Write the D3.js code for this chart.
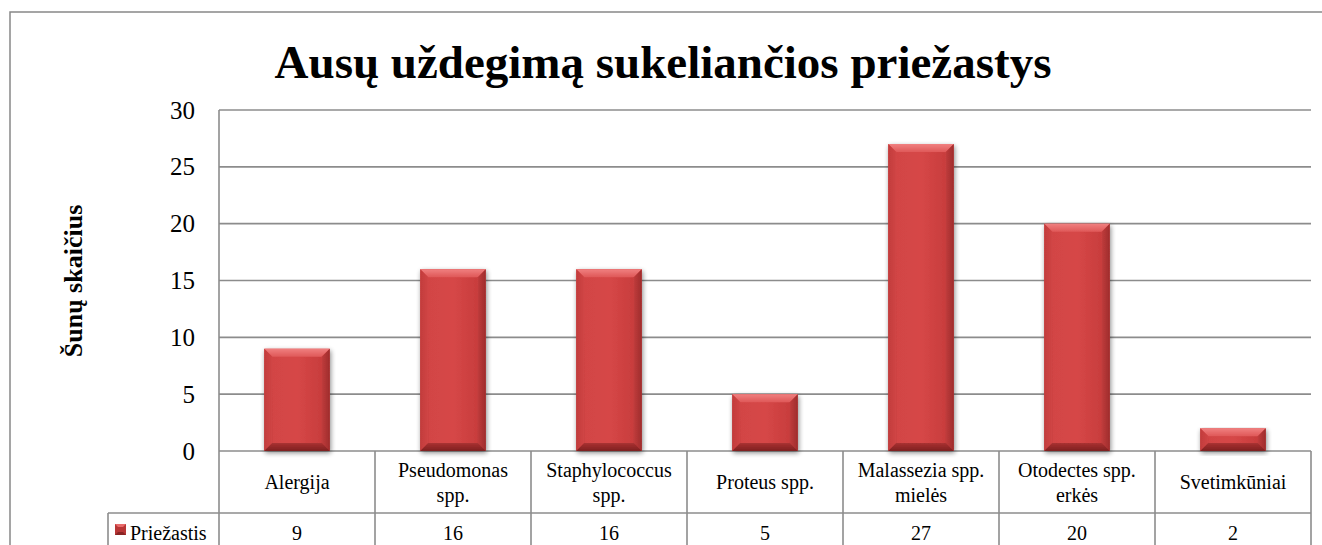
<!DOCTYPE html>
<html>
<head>
<meta charset="utf-8">
<script src="https://d3js.org/d3.v7.min.js"></script>
<style>
  html, body { margin: 0; padding: 0; background: #fff; overflow: hidden; }
  svg { display: block; }
  svg text { font-family: "Liberation Serif", "Times New Roman", serif; }
</style>
</head>
<body>
<div id="chart"></div>
<script>
/* Data */
const categories = [
  ['Alergija'],
  ['Pseudomonas', 'spp.'],
  ['Staphylococcus', 'spp.'],
  ['Proteus spp.'],
  ['Malassezia spp.', 'mielės'],
  ['Otodectes spp.', 'erkės'],
  ['Svetimkūniai']
];
const values = [9, 16, 16, 5, 27, 20, 2];
const yTicks = [0, 5, 10, 15, 20, 25, 30];
const seriesName = 'Priežastis';
const chartTitle = 'Ausų uždegimą sukeliančios priežastys';
const yTitle = 'Šunų skaičius';

/* Layout */
const W = 1322, H = 545;
const plot = { left: 219, right: 1311, top: 110, bottom: 451 };
const tableRow1 = 513;   // bottom of category row
const tableRow2 = 560;   // bottom of value row (cut off)
const legendLeft = 108;
const gridColor = '#8c8c8c';
const serif = '"Liberation Serif", "Times New Roman", serif';

const svg = d3.select('#chart').append('svg')
  .attr('width', W).attr('height', H);

const defs = svg.append('defs');

// bevel gradients for bars
function grad(id, x1, y1, x2, y2, stops) {
  const g = defs.append('linearGradient').attr('id', id)
    .attr('x1', x1).attr('y1', y1).attr('x2', x2).attr('y2', y2);
  stops.forEach(s => g.append('stop').attr('offset', s[0]).attr('stop-color', s[1]));
}
grad('face', 0, 0, 1, 0, [[0, '#d24545'], [0.5, '#d64747'], [1, '#c83d3d']]);
grad('faceV', 0, 0, 0, 1, [[0, '#d84848'], [1, '#b33434']]);
grad('topBevel', 0, 0, 0, 1, [[0, '#f08080'], [1, '#df5858']]);
grad('leftBevel', 0, 0, 1, 0, [[0, '#c23c3c'], [1, '#d04545']]);
grad('rightBevel', 0, 0, 1, 0, [[0, '#c03c3c'], [1, '#9e2c2c']]);
grad('botBevel', 0, 0, 0, 1, [[0, '#a93131'], [1, '#7e2020']]);

const shadow = defs.append('filter').attr('id', 'shadow')
  .attr('x', '-20%').attr('y', '-10%').attr('width', '140%').attr('height', '130%');
shadow.append('feGaussianBlur').attr('in', 'SourceAlpha').attr('stdDeviation', 2.5);
shadow.append('feOffset').attr('dx', 1).attr('dy', 2).attr('result', 'b');
shadow.append('feComponentTransfer').append('feFuncA').attr('type', 'linear').attr('slope', 0.45);
const merge = shadow.append('feMerge');
merge.append('feMergeNode');
merge.append('feMergeNode').attr('in', 'SourceGraphic');

/* Outer chart border (right side runs off the picture) */
svg.append('path')
  .attr('d', `M10,${H + 5} V12 H${W + 5}`)
  .attr('fill', 'none').attr('stroke', '#888').attr('stroke-width', 1.5);

/* Scales */
const x = d3.scaleBand()
  .domain(d3.range(categories.length))
  .range([plot.left, plot.right])
  .padding(0);

const y = d3.scaleLinear()
  .domain([0, 30])
  .range([plot.bottom, plot.top]);

/* Gridlines */
svg.append('g').selectAll('line')
  .data(yTicks)
  .join('line')
  .attr('x1', plot.left).attr('x2', plot.right)
  .attr('y1', d => y(d)).attr('y2', d => y(d))
  .attr('stroke', gridColor).attr('stroke-width', 1.6);

/* Y axis labels */
const yAxis = svg.append('g')
  .attr('transform', `translate(${plot.left - 24},0)`)
  .call(d3.axisLeft(y).tickValues(yTicks).tickSize(0).tickPadding(0));
yAxis.attr('font-family', serif);
yAxis.select('.domain').remove();
yAxis.selectAll('text')
  .attr('font-size', 25)
  .attr('fill', '#000')
  .attr('dy', '0.32em');

/* Axis vertical line through plot + table */
svg.append('line')
  .attr('x1', plot.left).attr('x2', plot.left)
  .attr('y1', plot.top).attr('y2', tableRow2)
  .attr('stroke', gridColor).attr('stroke-width', 1.6);

/* Bars */
const barW = x.bandwidth() * 0.42;
const bev = 8;
const bars = svg.append('g').selectAll('g')
  .data(values)
  .join('g')
  .attr('transform', (d, i) => `translate(${x(i) + (x.bandwidth() - barW) / 2},${y(d)})`)
  .attr('filter', 'url(#shadow)');

bars.append('rect')
  .attr('width', barW)
  .attr('height', d => y(0) - y(d))
  .attr('fill', 'url(#faceV)');
bars.append('rect')
  .attr('x', bev).attr('y', bev)
  .attr('width', barW - 2 * bev)
  .attr('height', d => Math.max(0, y(0) - y(d) - 2 * bev))
  .attr('fill', 'url(#face)');
bars.append('path')
  .attr('d', () => `M0,0 H${barW} L${barW - bev},${bev} H${bev} Z`)
  .attr('fill', 'url(#topBevel)');
bars.append('path')
  .attr('d', d => { const h = y(0) - y(d); return `M0,0 L${bev},${bev} V${h - bev} L0,${h} Z`; })
  .attr('fill', 'url(#leftBevel)');
bars.append('path')
  .attr('d', d => { const h = y(0) - y(d); return `M${barW},0 L${barW - bev},${bev} V${h - bev} L${barW},${h} Z`; })
  .attr('fill', 'url(#rightBevel)');
bars.append('path')
  .attr('d', d => { const h = y(0) - y(d); return `M0,${h} L${bev},${h - bev} H${barW - bev} L${barW},${h} Z`; })
  .attr('fill', 'url(#botBevel)');

/* Data table */
const table = svg.append('g').attr('font-family', serif);
// horizontal lines
table.append('line')
  .attr('x1', legendLeft).attr('x2', plot.right)
  .attr('y1', tableRow1).attr('y2', tableRow1)
  .attr('stroke', gridColor).attr('stroke-width', 1.6);
table.append('line')
  .attr('x1', legendLeft).attr('x2', legendLeft)
  .attr('y1', tableRow1).attr('y2', tableRow2)
  .attr('stroke', gridColor).attr('stroke-width', 1.6);
// vertical column separators
table.selectAll('.sep')
  .data(d3.range(1, categories.length + 1))
  .join('line')
  .attr('class', 'sep')
  .attr('x1', i => x(i - 1) + x.bandwidth()).attr('x2', i => x(i - 1) + x.bandwidth())
  .attr('y1', plot.bottom).attr('y2', tableRow2)
  .attr('stroke', gridColor).attr('stroke-width', 1.6);

// category labels
table.selectAll('.cat')
  .data(categories)
  .join('text')
  .attr('class', 'cat')
  .attr('text-anchor', 'middle')
  .attr('font-size', 20)
  .attr('fill', '#000')
  .each(function (lines, i) {
    const cx = x(i) + x.bandwidth() / 2;
    const startY = lines.length === 1 ? 489 : 477;
    d3.select(this).selectAll('tspan')
      .data(lines)
      .join('tspan')
      .attr('x', cx)
      .attr('y', (l, j) => startY + j * 25)
      .text(l => l);
  });

// values row
table.selectAll('.val')
  .data(values)
  .join('text')
  .attr('class', 'val')
  .attr('x', (d, i) => x(i) + x.bandwidth() / 2)
  .attr('y', 540)
  .attr('text-anchor', 'middle')
  .attr('font-size', 20)
  .attr('fill', '#000')
  .text(d => d);

// legend key + series name
const key = table.append('g').attr('transform', 'translate(115,524)');
key.append('rect').attr('width', 11).attr('height', 11).attr('fill', '#b83636');
key.append('path').attr('d', 'M0,0 H11 L8,3 H3 Z').attr('fill', '#e86a6a');
key.append('path').attr('d', 'M0,11 H11 L8,8 H3 Z').attr('fill', '#8a2424');
table.append('text')
  .attr('x', 130).attr('y', 540)
  .attr('font-size', 20)
  .attr('fill', '#000')
  .text(seriesName);

/* Titles */
svg.append('text')
  .attr('x', 663).attr('y', 78)
  .attr('text-anchor', 'middle')
  .attr('font-size', 47)
  .attr('font-weight', 'bold')
  .attr('fill', '#000')
  .text(chartTitle);

svg.append('text')
  .attr('transform', 'translate(82,281) rotate(-90)')
  .attr('text-anchor', 'middle')
  .attr('font-size', 26)
  .attr('font-weight', 'bold')
  .attr('fill', '#000')
  .text(yTitle);
</script>
</body>
</html>
